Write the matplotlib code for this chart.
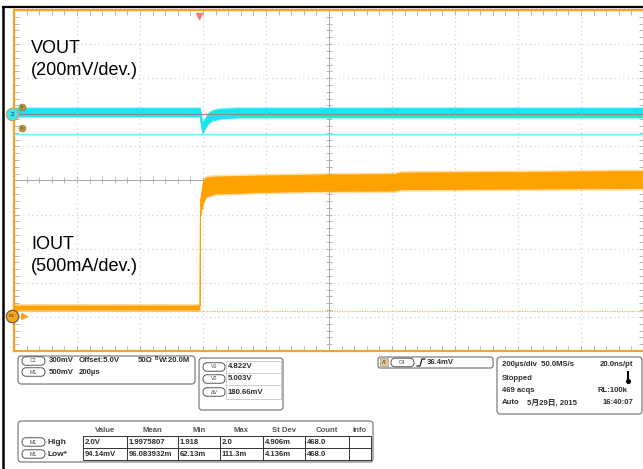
import matplotlib
matplotlib.use('Agg')
import matplotlib.pyplot as plt
from matplotlib.patches import FancyBboxPatch, Rectangle
from matplotlib.transforms import blended_transform_factory, offset_copy
import numpy as np

plt.rcParams['font.family'] = ['Liberation Sans', 'Noto Sans CJK JP', 'DejaVu Sans']

# horizontal: 200 us/div, trigger at t = 0
t_left, t_right = -587, 1413
us_per_div = 200

# C2 = VOUT : 300 mV/div, offset 5.0 V, placed +1.95 div above centre
v_scale, v_offset, v_pos = 0.3, 5.0, 1.95
# M1 = IOUT : 500 mA/div, ground placed -3.96 div below centre
i_scale, i_pos = 0.5, -3.96

# VOUT noise envelope (V)
vout_t = [-587, 3, 6, 11, 19, 29, 41, 67, 130, 1413]
vout_hi = [5.054, 5.054, 5.013, 4.925, 4.961, 5.005, 5.031, 5.046, 5.054, 5.054]
vout_lo = [4.980, 4.980, 4.899, 4.829, 4.873, 4.917, 4.943, 4.961, 4.972, 4.972]
cursor_v1, cursor_v2 = 4.822, 5.003

# IOUT noise envelope (A)
iout_t = [-587, 2, 3, 6, 13, 22, 51, 194, 384, 620, 640, 1000, 1413]
iout_hi = [0.147, 0.147, 1.672, 1.760, 1.979, 2.024, 2.038, 2.053, 2.067, 2.075, 2.097, 2.105, 2.120]
iout_lo = [0.088, 0.088, 1.422, 1.510, 1.642, 1.745, 1.789, 1.812, 1.828, 1.833, 1.852, 1.862, 1.870]
iout_ref = 0.073

cyan = '#1BE4F0'
orange = '#FFA200'
frame = '#F4A41E'

fig = plt.figure(figsize=(6.43, 4.69), dpi=100)
W, H = 643, 469

ax = fig.add_axes([14 / W, (H - 351) / H, 630 / W, 341 / H])
ax.set_xlim(t_left, t_right)
ax.set_ylim(-5, 5)
ax.set_xticks([])
ax.set_yticks([])
for s in ax.spines.values():
    s.set_color(frame)
    s.set_linewidth(1.6)

# graticule
for k in range(1, 10):
    x = t_left + k * us_per_div
    if k == 5:
        ax.axvline(x, color='#A9A9A9', lw=0.7, zorder=1)
    else:
        ax.axvline(x, color='#CACACA', lw=0.8, ls=(0, (1, 3)), zorder=1)
for j in range(-4, 5):
    if j == 0:
        ax.axhline(j, color='#A9A9A9', lw=0.7, zorder=1)
    else:
        ax.axhline(j, color='#CACACA', lw=0.8, ls=(0, (1, 3)), zorder=1)
xc = t_left + 5 * us_per_div
minor_x = t_left + np.arange(0, 51) * us_per_div / 5
minor_y = np.arange(-25, 26) / 5
ax.plot(minor_x, np.zeros_like(minor_x), ls='none', marker='|', ms=4, color='#A9A9A9', mew=0.6, zorder=1)
ax.plot(np.full_like(minor_y, xc), minor_y, ls='none', marker='_', ms=4, color='#A9A9A9', mew=0.6, zorder=1)
for yy in (5, -5):
    ax.plot(minor_x, np.full_like(minor_x, yy), ls='none', marker='|', ms=7, color='#A9A9A9', mew=0.6, zorder=1)
for xx in (t_left, t_right):
    ax.plot(np.full_like(minor_y, xx), minor_y, ls='none', marker='_', ms=7, color='#A9A9A9', mew=0.6, zorder=1)

# trigger marker
ax.plot([0], [4.82], marker='v', ms=5, color='#F07F6A', clip_on=False, zorder=6)

# VOUT channel
ax_v = ax.twinx()
ax_v.set_ylim(v_offset + (-5 - v_pos) * v_scale, v_offset + (5 - v_pos) * v_scale)
ax_v.axis('off')
halo_v = 0.012
ax_v.fill_between(vout_t, np.array(vout_lo) - halo_v, np.array(vout_hi) + halo_v,
                  color=cyan, alpha=0.35, lw=0, zorder=3)
ax_v.fill_between(vout_t, vout_lo, vout_hi, color=cyan, lw=0.5, zorder=3)
ax_v.axhline(cursor_v2, color='#8C8C80', lw=0.8, zorder=4)
ax_v.axhline(cursor_v1, color='#7FEFF7', lw=1.0, zorder=4)

# IOUT channel
ax_i = ax.twinx()
ax_i.set_ylim((-5 - i_pos) * i_scale, (5 - i_pos) * i_scale)
ax_i.axis('off')
ax_i.axhline(iout_ref, color='#F6B24A', lw=0.9, ls=(0, (1, 1)), zorder=2)
halo_i = 0.03
ax_i.fill_between(iout_t, np.array(iout_lo) - halo_i, np.array(iout_hi) + halo_i,
                  color=orange, alpha=0.35, lw=0, zorder=3)
ax_i.fill_between(iout_t, iout_lo, iout_hi, color=orange, ec=orange, lw=0.6, zorder=3)

# channel markers on the left edge
tv = blended_transform_factory(ax.transAxes, ax_v.transData)
ti = blended_transform_factory(ax.transAxes, ax_i.transData)
ax_v.plot([-0.003], [v_offset], marker='o', ms=9, mfc='#3FE6F2', mec='#D9A040', mew=0.8,
          transform=tv, clip_on=False, zorder=7)
ax_v.text(-0.003, v_offset, '2', transform=tv, fontsize=4.5, color='#225', ha='center', va='center', zorder=8)
for lvl, lab, dy in ((cursor_v2, 'b', 7), (cursor_v1, 'a', 6)):
    tr = offset_copy(tv, fig=fig, y=dy, units='dots')
    ax_v.plot([0.013], [lvl], marker='o', ms=5, mfc='#B39A3C', mec='#8A7428', mew=0.4,
              transform=tr, clip_on=False, zorder=7)
    ax_v.text(0.013, lvl, lab, transform=tr, fontsize=3, color='#332', ha='center', va='center', zorder=8)
ax_i.plot([0.016], [0], marker='>', ms=5, color=frame, transform=ti, clip_on=False, zorder=7)
ax_i.plot([-0.003], [0], marker='o', ms=9, mfc=frame, mec='#555', mew=0.8,
          transform=ti, clip_on=False, zorder=8)
ax_i.text(-0.003, 0, 'M1', transform=ti, fontsize=3.2, color='#332', ha='center', va='center', zorder=9)

# overlay in pixel coordinates for labels and the readout panel
ov = fig.add_axes([0, 0, 1, 1])
ov.set_xlim(0, W)
ov.set_ylim(H, 0)
ov.axis('off')
ov.patch.set_alpha(0)

ov.plot([3, 3], [7, H], color='black', lw=1.8)
ov.plot([3, W], [7.5, 7.5], color='black', lw=1.6)

ov.text(31, 53, 'VOUT', fontsize=13, va='baseline')
ov.text(31, 75, '(200mV/dev.)', fontsize=13, va='baseline')
ov.text(31, 249, 'IOUT', fontsize=13, va='baseline')
ov.text(31, 271, '(500mA/dev.)', fontsize=13, va='baseline')

txt = dict(fontsize=5.6, fontweight='bold', color='#2E2E2E', va='center')


def box(x, y, w, h, r=3):
    ov.add_patch(FancyBboxPatch((x, y), w, h, boxstyle=f'round,pad=0,rounding_size={r}',
                                fc='white', ec='#6E6E6E', lw=0.8))


def pill(x, y, label, w=23, h=8.5):
    ov.add_patch(FancyBboxPatch((x, y - h / 2), w, h, boxstyle=f'round,pad=0,rounding_size={h / 2}',
                                fc='white', ec='#555555', lw=0.7))
    ov.text(x + w / 2, y, label, fontsize=3.8, color='#444', ha='center', va='center')


# channel settings
box(18, 356, 177, 28)
pill(22, 361, 'C2')
ov.text(49, 361, '300mV', **txt)
ov.text(79, 361, 'Offset:5.0V', **txt)
ov.text(138, 361, '50Ω', **txt)
ov.text(155, 358.5, 'B', fontsize=3.5, fontweight='bold', color='#2E2E2E', va='center')
ov.text(158.5, 361, 'W:20.0M', **txt)
pill(22, 372, 'M1')
ov.text(49, 372, '500mV', **txt)
ov.text(79, 372, '200µs', **txt)

# cursor readout
box(199, 358, 84, 52)
for y, lab, val in ((367, 'V1', '4.822V'), (379, 'V2', '5.003V'), (392, 'ΔV', '180.66mV')):
    pill(203, y, lab, w=22)
    ov.text(228, y, val, **txt)
ov.add_patch(Rectangle((226, 361), 55, 38, fc='none', ec='#C8C8C8', lw=0.6))
for y in (373, 385.5):
    ov.plot([226, 281], [y, y], color='#C8C8C8', lw=0.6)

# trigger readout
box(378, 357, 115, 11, r=2.5)
ov.add_patch(Rectangle((380, 358.5), 8, 8, fc='#E6C78E', ec='#999', lw=0.5))
ov.text(384, 362.5, "A'", fontsize=3.8, color='#333', ha='center', va='center')
pill(391, 362.5, 'C4')
ov.plot([417, 420, 422, 425], [366, 366, 359, 359], color='#222', lw=0.9)
ov.text(427, 362.5, '36.4mV', **txt)

# acquisition readout
box(497, 357, 145, 57)
ov.text(502, 364, '200µs/div  50.0MS/s', **txt)
ov.text(633, 364, '20.0ns/pt', ha='right', **txt)
ov.text(502, 378, 'Stopped', **txt)
ov.plot([628, 628], [372, 380], color='black', lw=1.4)
ov.plot([628], [381], marker='o', ms=2.6, color='black')
ov.text(502, 390, '469 acqs', **txt)
ov.text(628, 390, 'RL:100k', ha='right', **txt)
ov.text(502, 403, 'Auto', **txt)
ov.text(527, 403, '5月29日, 2015', **txt)
ov.text(633, 403, '16:40:07', ha='right', **txt)

# measurement table
headers = ['Value', 'Mean', 'Min', 'Max', 'St Dev', 'Count', 'Info']
col_edges = [83, 127, 178, 220, 263, 305, 349, 371]
row_names = ['High', 'Low*']
row_cells = [['2.0V', '1.9975807', '1.918', '2.0', '4.906m', '468.0', ''],
             ['94.14mV', '96.083932m', '62.13m', '111.3m', '4.136m', '468.0', '']]
box(18, 421, 355, 41)
for h, a, b in zip(headers, col_edges[:-1], col_edges[1:]):
    ov.text((a + b) / 2, 430, h, ha='center', fontsize=5.6, fontweight='bold', color='#555', va='center')
row_y = [442, 454]
ov.add_patch(Rectangle((col_edges[0], 436), col_edges[-1] - col_edges[0], 24, fc='none', ec='#333', lw=0.7))
ov.plot([col_edges[0], col_edges[-1]], [448, 448], color='#333', lw=0.7)
for x in col_edges[1:-1]:
    ov.plot([x, x], [436, 460], color='#333', lw=0.7)
for y, name, cells in zip(row_y, row_names, row_cells):
    pill(22, y, 'M1')
    ov.text(48, y, name, fontsize=6, fontweight='bold', color='#2E2E2E', va='center')
    for c, x in zip(cells, col_edges[:-1]):
        ov.text(x + 1.5, y, c, **txt)

fig.savefig('out.png', dpi=100, facecolor='white')
